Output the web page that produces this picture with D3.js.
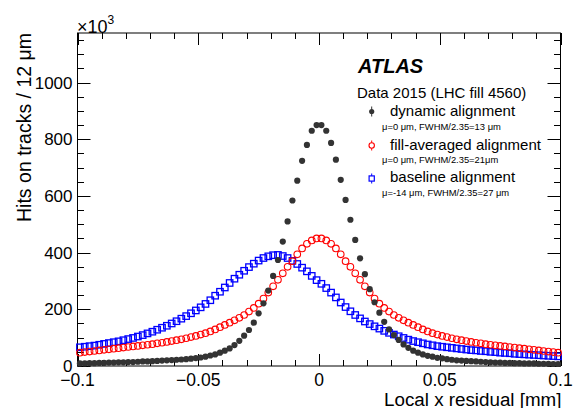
<!DOCTYPE html>
<html><head><meta charset="utf-8">
<script src="https://cdn.jsdelivr.net/npm/d3@7"></script>
<style>
body{margin:0;background:#fff}
svg{display:block}
text{font-family:"Liberation Sans",Arial,Helvetica,sans-serif;fill:#000}
</style>
</head><body>
<svg id="chart" width="573" height="408"></svg>
<script>
// histogram binning: 100 bins of 2 µm from -0.1 mm to 0.1 mm
const binLow = -0.1;
const binWidth = 0.002;

// hits on tracks (units of 10^3)
const dynamicAlignment = [
  9,9,10,10,11,11,12,12,13,13,14,14,15,16,16,17,18,19,20,21,22,23,24,26,28,
  30,33,37,41,47,54,62,74,89,107,127,153,186,221,266,318,374,439,510,584,654,724,780,830,850,
  850,830,787,728,657,586,516,445,380,324,271,225,188,156,129,109,92,76,64,54,
  47,41,36,33,29,27,24,22,20,19,18,17,16,15,14,13,12,12,11,11,10,10,9,9,9,8,8,8,7,7
];
const fillAveragedAlignment = [
  47,49,51,53,55,57,59,61,63,65,67,69,71,73,75,77,80,82,85,88,
  91,94,98,102,106,111,116,122,129,137,145,153,161,170,180,192,205,220,238,259,
  281,304,327,350,370,394,415,431,443,450,
  450,443,431,415,394,370,350,327,304,281,259,238,220,205,192,180,170,161,153,145,
  137,129,122,116,111,106,102,98,94,91,88,85,82,80,77,75,73,71,69,67,
  65,63,61,59,57,55,53,51,49,47
];
const baselineAlignment = [
  66,68,70,72,75,78,81,84,87,91,
  95,99,104,109,115,121,128,135,142,150,
  158,167,176,186,196,207,219,232,248,262,
  277,293,308,322,336,349,361,372,381,387,
  391,392,388,381,371,360,347,334,318,303,
  290,275,259,242,224,208,193,180,168,157,
  148,140,132,124,117,111,105,99,93,88,
  84,80,76,73,70,68,66,64,62,60,
  58,56,55,53,52,50,49,47,46,45,
  43,42,41,40,39,38,37,36,35,34
];

const xTickValues = [-0.1, -0.05, 0, 0.05, 0.1];
const xTickLabels = ["\u22120.1", "\u22120.05", "0", "0.05", "0.1"];
const yTickValues = [0, 200, 400, 600, 800, 1000];
const yTickLabels = ["0", "200", "400", "600", "800", "1000"];
const legendLabels = ["dynamic alignment", "fill-averaged alignment", "baseline alignment"];
const legendNotes = ["\u03bc=0 \u03bcm, FWHM/2.35=13 \u03bcm", "\u03bc=0 \u03bcm, FWHM/2.35=21\u03bcm", "\u03bc=-14 \u03bcm, FWHM/2.35=27 \u03bcm"];
const xTitle = "Local x residual [mm]";
const yTitle = "Hits on tracks / 12 \u03bcm";

const svg = d3.select("#chart");
const L = 77.5, R = 560.5, T = 33, B = 366;
const x = d3.scaleLinear().domain([-0.1, 0.1]).range([L, R]);
const y = d3.scaleLinear().domain([0, 1175]).range([B, T]);
const center = i => binLow + binWidth * (i + 0.5);

// frame
svg.append("rect").attr("x", L).attr("y", T).attr("width", R - L).attr("height", B - T)
  .attr("fill", "none").attr("stroke", "#000").attr("stroke-width", 1);

// ticks
const xMinor = d3.range(-0.1, 0.1001, 0.01).map(v => +v.toFixed(3));
const yMinor = d3.range(0, 1175, 50);
const tk = svg.append("g").attr("stroke", "#000").attr("stroke-width", 1);
xMinor.forEach(v => {
  const major = Math.abs(Math.round(v * 20) - v * 20) < 1e-6;
  const len = major ? 12 : 6;
  const px = Math.round(x(v)) + 0.5;
  tk.append("line").attr("x1", px).attr("x2", px).attr("y1", B).attr("y2", B - len);
  tk.append("line").attr("x1", px).attr("x2", px).attr("y1", T).attr("y2", T + len);
});
yMinor.forEach(v => {
  const major = v % 200 === 0;
  const len = major ? 13 : 6.5;
  const py = Math.round(y(v)) + 0.5;
  tk.append("line").attr("x1", L).attr("x2", L + len).attr("y1", py).attr("y2", py);
  tk.append("line").attr("x1", R).attr("x2", R - len).attr("y1", py).attr("y2", py);
});

// tick labels
svg.append("g").selectAll("text").data(xTickValues).join("text")
  .attr("x", d => x(d)).attr("y", 385.5).attr("text-anchor", "middle")
  .attr("font-size", 17.5).text((d, i) => xTickLabels[i]);
svg.append("g").selectAll("text").data(yTickValues).join("text")
  .attr("x", 72.5).attr("y", d => y(d) + 6).attr("text-anchor", "end")
  .attr("font-size", 17).text((d, i) => yTickLabels[i]);

// x10^3
const ex = svg.append("text").attr("x", 77).attr("y", 32.5).attr("font-size", 18);
ex.append("tspan").text("\u00d710");
ex.append("tspan").attr("font-size", 12).attr("dy", -9).text("3");

// axis titles
svg.append("text").attr("x", R + 1).attr("y", 405.5).attr("text-anchor", "end")
  .attr("font-size", 18.8).text(xTitle);
svg.append("text").attr("transform", `translate(30.5,${T}) rotate(-90)`)
  .attr("text-anchor", "end").attr("font-size", 19.5).text(yTitle);

// data
const bins = d3.range(dynamicAlignment.length);
svg.append("g").selectAll("rect").data(bins).join("rect")
  .attr("x", i => x(center(i)) - 3.2).attr("y", i => y(baselineAlignment[i]) - 3.2)
  .attr("width", 6.4).attr("height", 6.4)
  .attr("fill", "none").attr("stroke", "#0000ff").attr("stroke-width", 1.3);
svg.append("g").selectAll("circle").data(bins).join("circle")
  .attr("cx", i => x(center(i))).attr("cy", i => y(fillAveragedAlignment[i])).attr("r", 3.3)
  .attr("fill", "none").attr("stroke", "#ff0000").attr("stroke-width", 1.1);
svg.append("g").selectAll("circle").data(bins).join("circle")
  .attr("cx", i => x(center(i))).attr("cy", i => y(dynamicAlignment[i])).attr("r", 3.1)
  .attr("fill", "#333");

// labels
svg.append("text").attr("x", 358).attr("y", 72.7).attr("font-size", 20)
  .attr("font-weight", "bold").attr("font-style", "italic").text("ATLAS");
svg.append("text").attr("x", 357).attr("y", 98.3).attr("font-size", 15)
  .text("Data 2015 (LHC fill 4560)");

const legY = [111.5, 145.5, 178.5];
const legBase = [116, 149.5, 182];
const legNoteBase = [129.5, 163.3, 196];
const mx = 371.7;
// markers
svg.append("line").attr("x1", mx).attr("x2", mx).attr("y1", legY[0] - 5).attr("y2", legY[0] + 5)
  .attr("stroke", "#333").attr("stroke-width", 1);
svg.append("circle").attr("cx", mx).attr("cy", legY[0]).attr("r", 2.6).attr("fill", "#333");
svg.append("line").attr("x1", mx).attr("x2", mx).attr("y1", legY[1] - 5).attr("y2", legY[1] + 5)
  .attr("stroke", "#ff0000").attr("stroke-width", 1);
svg.append("circle").attr("cx", mx).attr("cy", legY[1]).attr("r", 2.7).attr("fill", "#fff")
  .attr("stroke", "#ff0000").attr("stroke-width", 1.1);
svg.append("line").attr("x1", mx).attr("x2", mx).attr("y1", legY[2] - 5).attr("y2", legY[2] + 5)
  .attr("stroke", "#0000ff").attr("stroke-width", 1);
svg.append("rect").attr("x", mx - 2.6).attr("y", legY[2] - 2.6).attr("width", 5.2).attr("height", 5.2)
  .attr("fill", "#fff").attr("stroke", "#0000ff").attr("stroke-width", 1.2);

legendLabels.forEach((t, i) => {
  svg.append("text").attr("x", 390).attr("y", legBase[i]).attr("font-size", 15).text(t);
  svg.append("text").attr("x", 382).attr("y", legNoteBase[i]).attr("font-size", 9.4).text(legendNotes[i]);
});
</script>
</body></html>
